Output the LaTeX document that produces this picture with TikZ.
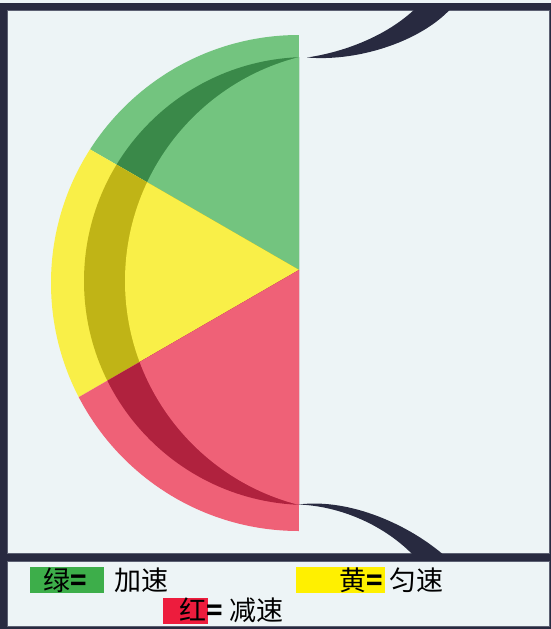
\documentclass[tikz,border=0pt]{standalone}
\usepackage{fontspec}
\newfontfamily\cjk{Noto Sans CJK SC}
\definecolor{bgc}{HTML}{EDF4F6}
\definecolor{navy}{HTML}{282A40}
\definecolor{edgec}{HTML}{5C6072}
\definecolor{gl}{HTML}{73C47F}
\definecolor{gd}{HTML}{3A8949}
\definecolor{yl}{HTML}{F9EF48}
\definecolor{yd}{HTML}{C0B416}
\definecolor{rl}{HTML}{EF6177}
\definecolor{rd}{HTML}{B0223E}
\definecolor{lg}{HTML}{3DAE4A}
\definecolor{ly}{HTML}{FFF000}
\definecolor{lr}{HTML}{ED1C3D}
\tikzset{
  panel/.style={fill=bgc, draw=edgec, line width=0.6pt},
  legtext/.style={anchor=base west, inner sep=0pt, font=\cjk\fontsize{27pt}{30pt}\selectfont, text=black},
}
\begin{document}
\begin{tikzpicture}[x=1pt,y=-1pt]
\useasboundingbox (0,0) rectangle (551,629);
% frame
\fill[bgc] (0,0) rectangle (551,629);
\fill[navy] (0,3) rectangle (551,629);
\path[panel] (7,10.5) rectangle (549.3,553);
\path[panel] (7,561.7) rectangle (549.3,626);
% pie
\begin{scope}
  \clip (299,283) circle (248);
  \clip (0,0) rectangle (299,629);
  \begin{scope}
    \clip (299,270) -- (-47.4,70) -- (-47.4,0) -- (299,0) -- cycle;
    \fill[gl] (0,0) rectangle (299,629);
    \fill[gd] (308,281) circle (224);
    \fill[gl] (356,281) circle (231);
  \end{scope}
  \begin{scope}
    \clip (299,270) -- (-47.4,70) -- (-47.4,470) -- cycle;
    \fill[yl] (0,0) rectangle (299,629);
    \fill[yd] (308,281) circle (224);
    \fill[yl] (356,281) circle (231);
  \end{scope}
  \begin{scope}
    \clip (299,270) -- (-47.4,470) -- (-47.4,629) -- (299,629) -- cycle;
    \fill[rl] (0,0) rectangle (299,629);
    \fill[rd] (308,281) circle (224);
    \fill[rl] (356,281) circle (231);
  \end{scope}
\end{scope}
% connectors
\fill[navy] (307,57.5) .. controls (360,62) and (425,40) .. (454,5)
  -- (419,5) .. controls (390,35) and (345,52) .. (307,57.5) -- cycle;
\fill[navy] (298.5,504.5) .. controls (350,498) and (410,525) .. (446,557)
  -- (415,557) .. controls (385,525) and (340,506) .. (298.5,504.5) -- cycle;
% legend
\fill[lg] (30,567) rectangle (104,593);
\fill[ly] (296,567) rectangle (385,593);
\fill[lr] (163,598) rectangle (208,624);
\node[legtext] (g) at (43,590) {绿{\bfseries =}};
\node[legtext] (ga) at (114,590) {加速};
\node[legtext] (y) at (339,590) {黄{\bfseries =}};
\node[legtext] (ya) at (389,590) {匀速};
\node[legtext] (r) at (179,620) {红{\bfseries =}};
\node[legtext] (ra) at (229,620) {减速};
\end{tikzpicture}
\end{document}
